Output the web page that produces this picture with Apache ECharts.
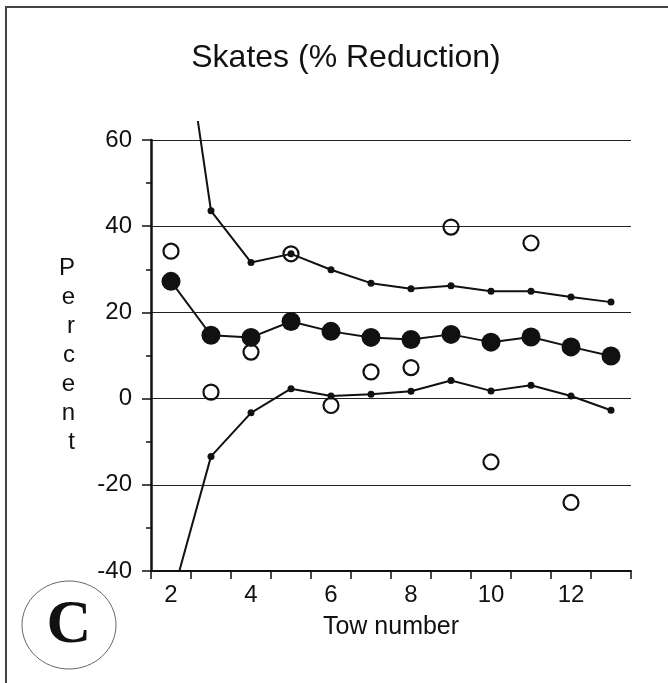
<!DOCTYPE html>
<html>
<head>
<meta charset="utf-8">
<script src="https://cdn.jsdelivr.net/npm/echarts@6/dist/echarts.min.js"></script>
<style>
  html, body { margin: 0; padding: 0; background: #fff; }
  #main { width: 668px; height: 683px; }
</style>
</head>
<body>
<div id="main"></div>
<script>
// tow numbers on the x axis
const tows = ["2", "3", "4", "5", "6", "7", "8", "9", "10", "11", "12", "13"];
// mean % reduction (filled circles)
const meanVals = [27.2, 14.7, 14.2, 17.9, 15.6, 14.2, 13.7, 14.9, 13.1, 14.3, 12.0, 9.9];
// upper and lower bounds (small dots), first points run off the chart
const upperVals = [107, 43.6, 31.6, 33.6, 29.9, 26.8, 25.5, 26.2, 24.9, 24.9, 23.6, 22.4];
const lowerVals = [-47, -13.4, -3.3, 2.3, 0.6, 1.0, 1.7, 4.2, 1.8, 3.1, 0.6, -2.7];
// single tow values (open circles)
const towVals = [34.2, 1.5, 10.8, 33.6, -1.6, 6.2, 7.2, 39.8, -14.7, 36.1, -24.1, null];

const font = "Liberation Sans, Arial, Helvetica, sans-serif";
const ink = "#111";

const chart = echarts.init(document.getElementById("main"));

chart.setOption({
  backgroundColor: "#fff",
  animation: false,
  title: {
    text: "Skates (% Reduction)",
    left: 341,
    top: 37,
    textAlign: "center",
    textStyle: { fontFamily: font, fontSize: 32, fontWeight: "normal", color: ink }
  },
  grid: [
    { left: 151, right: 37, top: 140, bottom: 112 },
    // same plot, taller clip box for the bound lines
    { left: 151, right: 37, top: 122, bottom: 112 }
  ],
  xAxis: [
    {
      type: "category",
      data: tows,
      gridIndex: 0,
      boundaryGap: true,
      name: "Tow number",
      nameLocation: "middle",
      nameGap: 44,
      nameTextStyle: { fontFamily: font, fontSize: 25, color: ink },
      axisLine: { onZero: false, lineStyle: { color: ink, width: 2 } },
      axisTick: { show: true, interval: 0, length: 8, lineStyle: { color: ink, width: 1.5 } },
      axisLabel: { interval: 1, margin: 12, fontFamily: font, fontSize: 24, color: ink },
      splitLine: { show: false }
    },
    { type: "category", data: tows, gridIndex: 1, boundaryGap: true, show: false }
  ],
  yAxis: [
    {
      type: "value",
      gridIndex: 0,
      min: -40,
      max: 60,
      interval: 20,
      name: "P\ne\nr\nc\ne\nn\nt",
      nameLocation: "middle",
      nameRotate: 0,
      nameGap: 76,
      nameTextStyle: { fontFamily: font, fontSize: 24, color: ink, lineHeight: 29 },
      axisLine: { show: true, lineStyle: { color: ink, width: 2.5 } },
      axisTick: { show: true, length: 9, lineStyle: { color: ink, width: 1.5 } },
      minorTick: { show: true, splitNumber: 2, length: 5, lineStyle: { color: ink, width: 1.5 } },
      axisLabel: { margin: 19, fontFamily: font, fontSize: 24, color: ink },
      splitLine: { show: true, lineStyle: { color: "#222", width: 1.2 } }
    },
    { type: "value", gridIndex: 1, min: -40, max: 64.2, show: false }
  ],
  graphic: [
    {
      type: "polyline",
      shape: { points: [[6, 683], [6, 7], [668, 7]] },
      style: { stroke: "#444", lineWidth: 2, fill: null }
    },
    {
      type: "ellipse",
      shape: { cx: 69, cy: 625, rx: 47, ry: 44 },
      style: { stroke: "#666", lineWidth: 1, fill: null }
    },
    {
      type: "text",
      x: 69,
      y: 626,
      style: {
        text: "C",
        font: "bold 62px 'Liberation Serif', 'Times New Roman', serif",
        fill: ink,
        align: "center",
        verticalAlign: "middle"
      }
    }
  ],
  series: [
    {
      name: "Tow",
      type: "scatter",
      xAxisIndex: 0,
      yAxisIndex: 0,
      data: towVals,
      symbol: "circle",
      symbolSize: 15,
      itemStyle: { color: "rgba(255,255,255,0)", borderColor: ink, borderWidth: 2.2, opacity: 1 },
      z: 2
    },
    {
      name: "Upper",
      type: "line",
      xAxisIndex: 1,
      yAxisIndex: 1,
      data: upperVals,
      symbol: "circle",
      symbolSize: 7,
      showAllSymbol: true,
      lineStyle: { color: ink, width: 2 },
      itemStyle: { color: ink },
      z: 3
    },
    {
      name: "Lower",
      type: "line",
      xAxisIndex: 1,
      yAxisIndex: 1,
      data: lowerVals,
      symbol: "circle",
      symbolSize: 7,
      showAllSymbol: true,
      lineStyle: { color: ink, width: 2 },
      itemStyle: { color: ink },
      z: 3
    },
    {
      name: "Mean",
      type: "line",
      xAxisIndex: 0,
      yAxisIndex: 0,
      data: meanVals,
      symbol: "circle",
      symbolSize: 19,
      showAllSymbol: true,
      lineStyle: { color: ink, width: 2 },
      itemStyle: { color: ink },
      z: 4
    }
  ]
});
</script>
</body>
</html>
